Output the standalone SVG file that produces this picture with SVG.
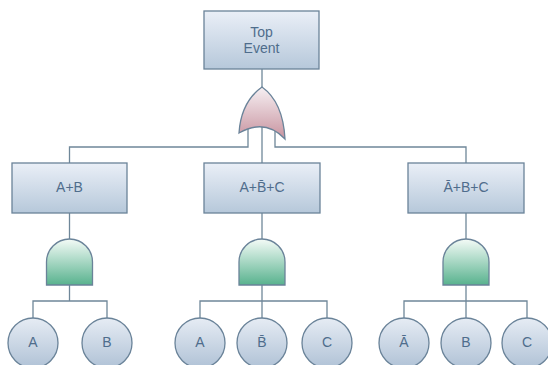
<svg xmlns="http://www.w3.org/2000/svg" width="548" height="365" viewBox="0 0 548 365">
  <defs>
    <linearGradient id="boxFill" x1="0" y1="0" x2="0" y2="1">
      <stop offset="0" stop-color="#eaeff7"/>
      <stop offset="1" stop-color="#b6c8da"/>
    </linearGradient>
    <linearGradient id="circleFill" x1="0" y1="0" x2="0" y2="1">
      <stop offset="0" stop-color="#e6ecf4"/>
      <stop offset="1" stop-color="#b0c2d6"/>
    </linearGradient>
    <linearGradient id="orFill" x1="0" y1="0" x2="0" y2="1">
      <stop offset="0" stop-color="#f6f0f3"/>
      <stop offset="1" stop-color="#c8939f"/>
    </linearGradient>
    <linearGradient id="andFill" x1="0" y1="0" x2="0" y2="1">
      <stop offset="0" stop-color="#f4fbf7"/>
      <stop offset="1" stop-color="#58b28e"/>
    </linearGradient>
  </defs>
  <style>
    .box { fill: url(#boxFill); stroke: #6a8399; stroke-width: 1.3; }
    .evt { fill: url(#circleFill); stroke: #6a8399; stroke-width: 1.3; }
    .or { fill: url(#orFill); stroke: #6a8399; stroke-width: 1.3; }
    .and { fill: url(#andFill); stroke: #6a8399; stroke-width: 1.3; }
    .wire { fill: none; stroke: #6f8799; stroke-width: 1.3; }
    text { font-family: "Liberation Sans", Arial, sans-serif; font-size: 14px; fill: #4f6d8c; text-anchor: middle; }
  </style>

  <!-- connectors, drawn first so gates sit on top -->
  <g id="connectors">
    <path class="wire" d="M262,69 V90"/>
    <path class="wire" d="M248,128 V147 H69.5 V163"/>
    <path class="wire" d="M262,124 V163"/>
    <path class="wire" d="M275,128 V147 H466 V163"/>

    <path class="wire" d="M69.5,213 V239"/>
    <path class="wire" d="M69.5,285 V301"/>
    <path class="wire" d="M33,318 V301 H107 V318"/>

    <path class="wire" d="M262,213 V239"/>
    <path class="wire" d="M262,285 V318"/>
    <path class="wire" d="M200,318 V301 H327 V318"/>

    <path class="wire" d="M466,213 V239"/>
    <path class="wire" d="M466,285 V318"/>
    <path class="wire" d="M404,318 V301 H527 V318"/>
  </g>

  <g id="top-event">
    <rect class="box" x="204" y="11" width="115" height="58"/>
    <text x="261.5" y="37">Top</text>
    <text x="261.5" y="53">Event</text>
  </g>

  <g id="or-gate">
    <path class="or" d="M239,133 Q241,102 262,87 Q283,102 285,139 Q265,118 239,133 Z"/>
  </g>

  <g id="cut-ab">
    <rect class="box" x="12" y="163" width="115" height="50"/>
    <text x="69.5" y="192">A+B</text>
  </g>
  <g id="cut-abc">
    <rect class="box" x="204" y="163" width="116" height="50"/>
    <text x="262" y="192">A+B̄+C</text>
  </g>
  <g id="cut-nabc">
    <rect class="box" x="408" y="163" width="116" height="50"/>
    <text x="466" y="192">Ā+B+C</text>
  </g>

  <g id="and-gate-1">
    <path class="and" d="M46.5,285 V262 A23,23 0 0 1 92.5,262 V285 Z"/>
  </g>
  <g id="and-gate-2">
    <path class="and" d="M239,285 V262 A23,23 0 0 1 285,262 V285 Z"/>
  </g>
  <g id="and-gate-3">
    <path class="and" d="M443,285 V262 A23,23 0 0 1 489,262 V285 Z"/>
  </g>

  <g id="event-1a">
    <circle class="evt" cx="33" cy="343" r="25"/>
    <text x="33" y="347">A</text>
  </g>
  <g id="event-1b">
    <circle class="evt" cx="107" cy="343" r="25"/>
    <text x="107" y="347">B</text>
  </g>

  <g id="event-2a">
    <circle class="evt" cx="200" cy="343" r="25"/>
    <text x="200" y="347">A</text>
  </g>
  <g id="event-2b">
    <circle class="evt" cx="262" cy="343" r="25"/>
    <text x="262" y="347">B̄</text>
  </g>
  <g id="event-2c">
    <circle class="evt" cx="327" cy="343" r="25"/>
    <text x="327" y="347">C</text>
  </g>

  <g id="event-3a">
    <circle class="evt" cx="404" cy="343" r="25"/>
    <text x="404" y="347">Ā</text>
  </g>
  <g id="event-3b">
    <circle class="evt" cx="466" cy="343" r="25"/>
    <text x="466" y="347">B</text>
  </g>
  <g id="event-3c">
    <circle class="evt" cx="527" cy="343" r="25"/>
    <text x="527" y="347">C</text>
  </g>
</svg>
